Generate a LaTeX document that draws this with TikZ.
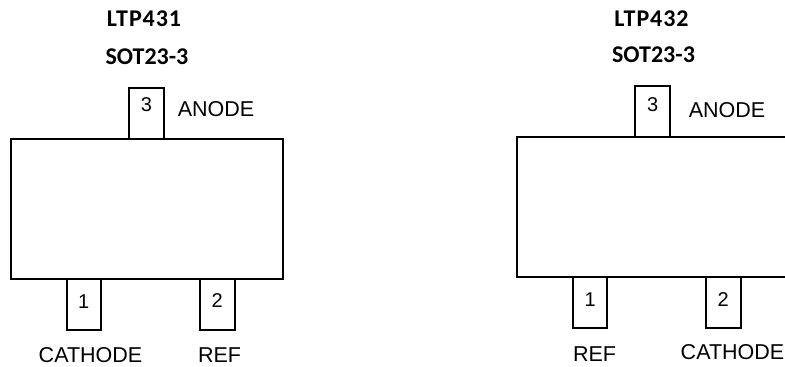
\documentclass[tikz,border=0pt]{standalone}
\usepackage{fontspec}
\setmainfont{Liberation Sans}
\newfontfamily\titlefont{Carlito}[BoldFont={Carlito Bold}]
\usetikzlibrary{positioning}

\begin{document}
\begin{tikzpicture}[x=1pt, y=-1pt, node distance=0pt]
    % Define styles
    \tikzstyle{bodybox} = [rectangle, draw=black, line width=2pt, outer sep=0pt, minimum width=272pt, minimum height=140pt]
    \tikzstyle{pinbox} = [rectangle, draw=black, line width=2pt, outer sep=0pt, inner sep=0pt, minimum width=34.5pt, minimum height=51pt]
    \tikzstyle{pinnum} = [inner sep=0pt, font=\fontsize{20}{20}\selectfont]
    \tikzstyle{pinname} = [inner sep=0pt, font=\fontsize{21.5}{21.5}\selectfont]
    \tikzstyle{title} = [inner sep=0pt, font=\titlefont\bfseries\fontsize{24}{24}\selectfont]
    \tikzstyle{wide title} = [title, font=\titlefont\bfseries\fontsize{24}{24}\selectfont\addfontfeature{LetterSpace=4}]

    \useasboundingbox (0,0) rectangle (785,367);

    % LTP431
    \node [bodybox, anchor=north west] (bodyA) at (11,138.5) {};
    \node [pinbox, above=of bodyA.north west, xshift=135.5pt] (pinAc) {};
    \node [pinbox, below=of bodyA.south west, xshift=72.8pt] (pinAa) {};
    \node [pinbox, below=of bodyA.south west, xshift=206.3pt] (pinAb) {};
    \node [pinnum] (numAc) at ([yshift=8pt]pinAc) {3};
    \node [pinnum] (numAa) at ([yshift=2.5pt]pinAa) {1};
    \node [pinnum] (numAb) at ([yshift=3.5pt]pinAb) {2};
    \node [pinname] (nameAc) at (216,109.5) {ANODE};
    \node [pinname] (nameAa) at (90.5,355) {CATHODE};
    \node [pinname] (nameAb) at (219.5,355) {REF};
    \node [wide title] (titleA) at (144,19) {LTP431};
    \node [title] (titleB) at (147,56.5) {SOT23-3};

    % LTP432
    \node [bodybox, anchor=north west] (bodyB) at (516.7,136.7) {};
    \node [pinbox, above=of bodyB.north west, xshift=135.9pt] (pinBc) {};
    \node [pinbox, below=of bodyB.south west, xshift=73.4pt] (pinBa) {};
    \node [pinbox, below=of bodyB.south west, xshift=206.6pt] (pinBb) {};
    \node [pinnum] (numBc) at ([yshift=7pt]pinBc) {3};
    \node [pinnum] (numBa) at ([yshift=3pt]pinBa) {1};
    \node [pinnum] (numBb) at ([yshift=3pt]pinBb) {2};
    \node [pinname] (nameBc) at (727,110) {ANODE};
    \node [pinname] (nameBa) at (594.5,354) {REF};
    \node [pinname] (nameBb) at (732.5,352) {CATHODE};
    \node [wide title] (titleC) at (651.5,18.5) {LTP432};
    \node [title] (titleD) at (653.5,54.5) {SOT23-3};
\end{tikzpicture}
\end{document}
